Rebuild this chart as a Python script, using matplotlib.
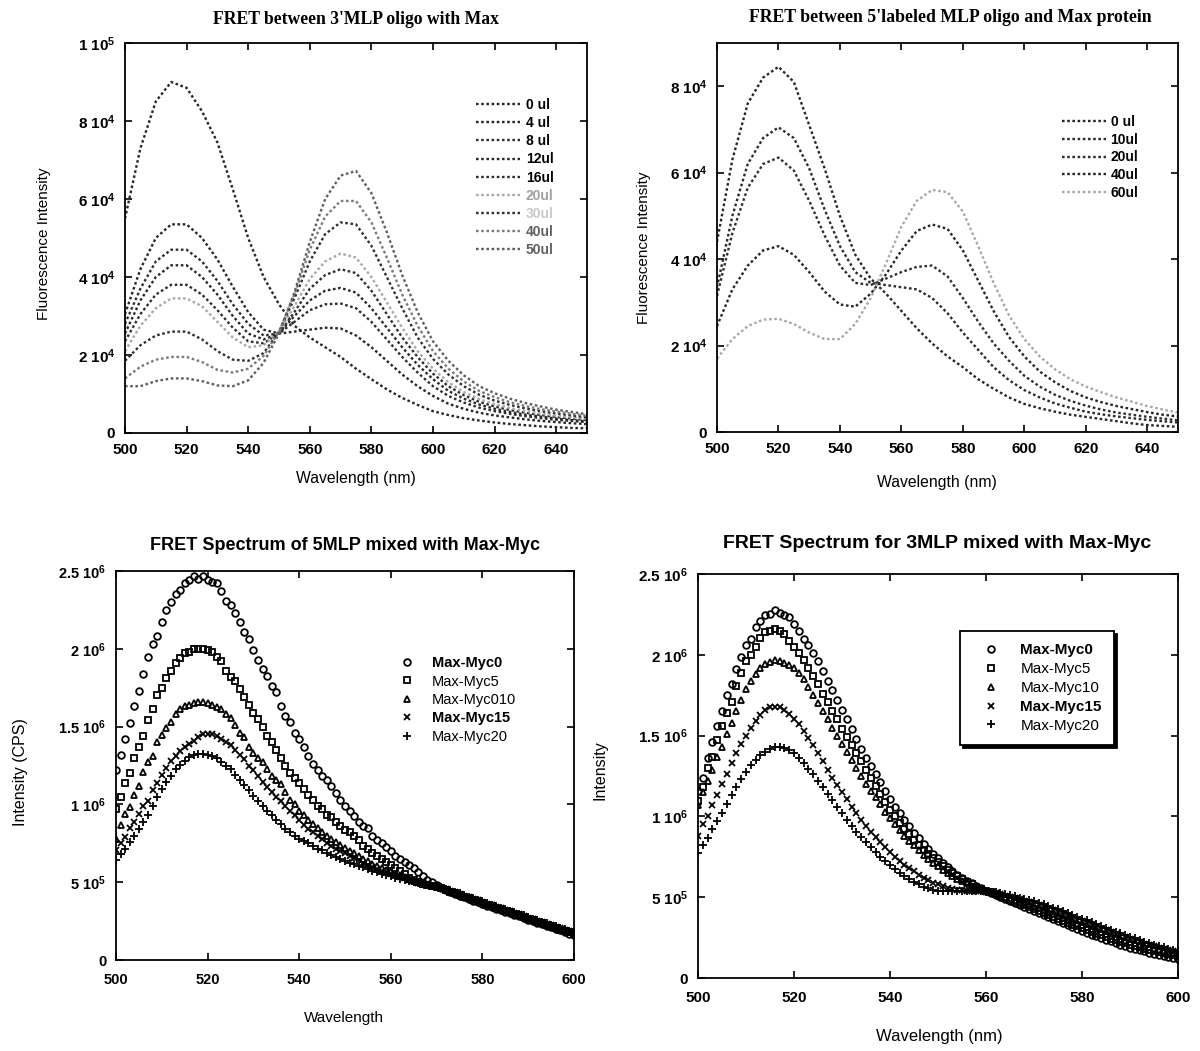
import numpy as np
import matplotlib
matplotlib.use('Agg')
import matplotlib.pyplot as plt

plt.rcParams['font.family'] = ['Liberation Sans', 'DejaVu Sans']
plt.rcParams['mathtext.fontset'] = 'custom'
plt.rcParams['mathtext.rm'] = 'Liberation Sans:bold'
plt.rcParams['mathtext.bf'] = 'Liberation Sans:bold'
plt.rcParams['mathtext.default'] = 'rm'

# ---- top panels: wavelength every 5 nm, intensity in units of 1e4 ----
wl_top = np.arange(500, 651, 5)

tl_labels = ['0 ul', '4 ul', '8 ul', '12ul', '16ul', '20ul', '30ul', '40ul', '50ul']
tl_0 = [5.5, 7.3, 8.5, 9.0, 8.85, 8.25, 7.45, 6.25, 5.0, 4.0,
        3.3, 2.75, 2.45, 2.2, 1.95, 1.65, 1.38, 1.12, 0.9, 0.72,
        0.56, 0.46, 0.38, 0.32, 0.27, 0.23, 0.2, 0.17, 0.15, 0.13, 0.12]
tl_4 = [3.05, 4.2, 5.0, 5.35, 5.35, 5.0, 4.45, 3.75, 3.1, 2.65,
        2.55, 2.6, 2.65, 2.7, 2.68, 2.5, 2.2, 1.85, 1.5, 1.2,
        0.95, 0.75, 0.62, 0.52, 0.45, 0.4, 0.35, 0.31, 0.28, 0.25, 0.23]
tl_8 = [2.8, 3.7, 4.4, 4.7, 4.7, 4.4, 3.9, 3.3, 2.8, 2.5,
        2.55, 2.85, 3.15, 3.3, 3.32, 3.2, 2.85, 2.4, 1.95, 1.55,
        1.2, 0.95, 0.78, 0.65, 0.56, 0.49, 0.43, 0.38, 0.34, 0.31, 0.28]
tl_12 = [2.55, 3.4, 4.0, 4.3, 4.3, 4.0, 3.55, 3.0, 2.55, 2.4,
         2.55, 3.0, 3.4, 3.65, 3.72, 3.6, 3.2, 2.7, 2.2, 1.75,
         1.38, 1.08, 0.88, 0.73, 0.62, 0.54, 0.47, 0.42, 0.37, 0.33, 0.3]
tl_16 = [2.35, 3.05, 3.55, 3.8, 3.8, 3.55, 3.15, 2.7, 2.35, 2.3,
         2.55, 3.1, 3.7, 4.05, 4.2, 4.1, 3.65, 3.05, 2.45, 1.95,
         1.52, 1.2, 0.97, 0.8, 0.68, 0.59, 0.52, 0.46, 0.41, 0.37, 0.33]
tl_20 = [2.1, 2.75, 3.2, 3.45, 3.45, 3.25, 2.85, 2.45, 2.2, 2.25,
         2.6, 3.25, 3.95, 4.4, 4.6, 4.5, 4.0, 3.35, 2.7, 2.1,
         1.65, 1.3, 1.05, 0.87, 0.74, 0.64, 0.56, 0.5, 0.44, 0.4, 0.36]
tl_30 = [1.85, 2.25, 2.5, 2.6, 2.6, 2.4, 2.1, 1.88, 1.85, 2.05,
         2.6, 3.45, 4.4, 5.1, 5.4, 5.35, 4.8, 4.0, 3.2, 2.45,
         1.9, 1.5, 1.2, 0.98, 0.83, 0.72, 0.63, 0.56, 0.5, 0.45, 0.4]
tl_40 = [1.4, 1.7, 1.88, 1.95, 1.95, 1.82, 1.62, 1.55, 1.65, 1.98,
         2.6, 3.55, 4.7, 5.55, 5.95, 5.95, 5.4, 4.5, 3.55, 2.75,
         2.1, 1.65, 1.32, 1.08, 0.92, 0.79, 0.69, 0.61, 0.55, 0.49, 0.44]
tl_50 = [1.2, 1.2, 1.33, 1.4, 1.4, 1.33, 1.22, 1.2, 1.35, 1.8,
         2.55, 3.6, 4.9, 6.0, 6.6, 6.72, 6.15, 5.15, 4.05, 3.1,
         2.35, 1.85, 1.48, 1.2, 1.02, 0.88, 0.77, 0.68, 0.6, 0.54, 0.48]

tr_labels = ['0 ul', '10ul', '20ul', '40ul', '60ul']
tr_0 = [4.4, 6.3, 7.6, 8.2, 8.45, 8.1, 7.1, 6.1, 5.0, 4.1,
        3.55, 3.2, 2.8, 2.4, 2.05, 1.75, 1.5, 1.22, 1.0, 0.8,
        0.65, 0.55, 0.47, 0.4, 0.35, 0.3, 0.25, 0.2, 0.16, 0.14, 0.12]
tr_10 = [3.35, 5.0, 6.2, 6.8, 7.05, 6.8, 6.1, 5.15, 4.3, 3.7,
         3.45, 3.4, 3.35, 3.3, 3.1, 2.75, 2.3, 1.9, 1.5, 1.2,
         0.97, 0.8, 0.66, 0.56, 0.47, 0.41, 0.36, 0.32, 0.28, 0.25, 0.22]
tr_20 = [3.15, 4.6, 5.65, 6.2, 6.35, 6.05, 5.35, 4.55, 3.85, 3.45,
         3.4, 3.55, 3.7, 3.82, 3.85, 3.6, 3.1, 2.55, 2.05, 1.65,
         1.3, 1.05, 0.86, 0.72, 0.61, 0.52, 0.45, 0.4, 0.35, 0.31, 0.27]
tr_40 = [2.45, 3.3, 3.85, 4.2, 4.3, 4.1, 3.7, 3.25, 2.95, 2.9,
         3.2, 3.65, 4.2, 4.65, 4.8, 4.7, 4.2, 3.5, 2.8, 2.2,
         1.75, 1.4, 1.15, 0.95, 0.8, 0.69, 0.6, 0.53, 0.46, 0.4, 0.36]
tr_60 = [1.7, 2.15, 2.45, 2.6, 2.62, 2.5, 2.3, 2.15, 2.15, 2.5,
         3.1, 3.9, 4.75, 5.35, 5.6, 5.55, 5.1, 4.3, 3.45, 2.7,
         2.15, 1.75, 1.45, 1.22, 1.05, 0.92, 0.8, 0.7, 0.6, 0.52, 0.45]

# ---- bottom panels: wavelength every 1 nm, intensity in units of 1e5 ----
wl_bot = np.arange(500, 601, 1)

bl_labels = ['Max-Myc0', 'Max-Myc5', 'Max-Myc010', 'Max-Myc15', 'Max-Myc20']
bl_0 = [12.2, 13.2, 14.2, 15.2, 16.3, 17.3, 18.4, 19.5, 20.3, 20.8,
        21.7, 22.5, 23.0, 23.5, 23.8, 24.2, 24.4, 24.7, 24.5, 24.7,
        24.45, 24.3, 24.2, 23.7, 23.1, 22.8, 22.3, 21.7, 21.1, 20.6,
        19.9, 19.3, 18.7, 18.25, 17.6, 17.2, 16.3, 15.7, 15.3, 14.6,
        14.2, 13.7, 13.1, 12.6, 12.2, 11.8, 11.6, 11.2, 10.75, 10.3,
        9.9, 9.6, 9.25, 8.9, 8.6, 8.5, 8.0, 7.7, 7.5, 7.25,
        7.0, 6.7, 6.5, 6.3, 6.1, 5.9, 5.65, 5.4, 5.15, 5.0,
        4.8, 4.6, 4.48, 4.36, 4.25, 4.14, 4.03, 3.92, 3.81, 3.7,
        3.6, 3.5, 3.4, 3.3, 3.2, 3.1, 3.0, 2.9, 2.8, 2.7,
        2.6, 2.5, 2.4, 2.3, 2.2, 2.1, 2.0, 1.9, 1.8, 1.7,
        1.6]
bl_5 = [9.7, 10.5, 11.35, 12.0, 13.0, 13.7, 14.4, 15.4, 16.1, 17.0,
        17.5, 18.1, 18.6, 19.1, 19.4, 19.7, 19.8, 20.0, 20.0, 20.0,
        19.9, 19.8, 19.5, 19.2, 18.6, 18.2, 17.9, 17.4, 16.9, 16.4,
        15.9, 15.5, 15.0, 14.4, 14.0, 13.5, 13.0, 12.5, 12.0, 11.7,
        11.35, 11.0, 10.6, 10.3, 9.9, 9.7, 9.35, 9.2, 8.9, 8.6,
        8.35, 8.2, 7.95, 7.7, 7.35, 7.15, 6.9, 6.7, 6.5, 6.3,
        6.1, 5.9, 5.7, 5.5, 5.3, 5.15, 5.0, 4.9, 4.82, 4.75,
        4.7, 4.62, 4.51, 4.4, 4.29, 4.18, 4.07, 3.96, 3.86, 3.76,
        3.66, 3.56, 3.46, 3.36, 3.26, 3.16, 3.06, 2.96, 2.86, 2.76,
        2.66, 2.56, 2.46, 2.36, 2.26, 2.16, 2.06, 1.96, 1.86, 1.77,
        1.68]
bl_10 = [7.8, 8.7, 9.4, 9.85, 10.6, 11.2, 12.1, 12.7, 13.1, 14.0,
         14.45, 14.9, 15.3, 15.8, 16.1, 16.3, 16.4, 16.5, 16.6, 16.6,
         16.5, 16.4, 16.25, 16.1, 15.8, 15.55, 15.1, 14.6, 14.3, 13.7,
         13.3, 13.0, 12.7, 12.3, 11.8, 11.6, 11.3, 10.8, 10.3, 10.0,
         9.6, 9.3, 9.0, 8.75, 8.5, 8.2, 8.0, 7.8, 7.6, 7.4,
         7.2, 7.0, 6.85, 6.7, 6.5, 6.35, 6.2, 6.05, 5.9, 5.8,
         5.7, 5.55, 5.45, 5.35, 5.2, 5.1, 5.0, 4.9, 4.82, 4.75,
         4.7, 4.64, 4.54, 4.44, 4.33, 4.22, 4.11, 4.0, 3.9, 3.8,
         3.7, 3.6, 3.5, 3.4, 3.3, 3.2, 3.1, 3.0, 2.9, 2.8,
         2.7, 2.6, 2.5, 2.4, 2.3, 2.2, 2.1, 2.0, 1.9, 1.81,
         1.72]
bl_15 = [7.1, 7.5, 7.9, 8.5, 8.9, 9.4, 9.9, 10.2, 10.9, 11.35,
         11.9, 12.35, 12.8, 13.1, 13.45, 13.7, 13.9, 14.05, 14.3, 14.5,
         14.55, 14.5, 14.4, 14.2, 14.0, 13.8, 13.5, 13.2, 12.9, 12.5,
         12.2, 11.8, 11.45, 11.1, 10.8, 10.5, 10.2, 9.9, 9.6, 9.3,
         9.0, 8.7, 8.45, 8.2, 8.0, 7.8, 7.55, 7.35, 7.15, 7.0,
         6.85, 6.7, 6.55, 6.4, 6.25, 6.1, 6.0, 5.85, 5.75, 5.65,
         5.55, 5.45, 5.35, 5.25, 5.15, 5.05, 4.98, 4.9, 4.82, 4.75,
         4.7, 4.65, 4.56, 4.46, 4.36, 4.25, 4.14, 4.03, 3.93, 3.83,
         3.73, 3.63, 3.53, 3.43, 3.33, 3.23, 3.13, 3.03, 2.93, 2.83,
         2.73, 2.63, 2.53, 2.43, 2.33, 2.23, 2.13, 2.03, 1.94, 1.85,
         1.76]
bl_20 = [6.4, 6.8, 7.15, 7.6, 8.0, 8.45, 8.9, 9.35, 9.9, 10.45,
         11.0, 11.45, 11.85, 12.25, 12.55, 12.8, 13.05, 13.2, 13.25, 13.25,
         13.2, 13.1, 13.0, 12.7, 12.5, 12.25, 11.9, 11.55, 11.25, 10.9,
         10.55, 10.25, 9.9, 9.6, 9.3, 9.0, 8.75, 8.45, 8.25, 8.0,
         7.8, 7.65, 7.5, 7.3, 7.15, 7.05, 6.9, 6.75, 6.6, 6.5,
         6.35, 6.25, 6.15, 6.05, 5.95, 5.85, 5.75, 5.65, 5.55, 5.45,
         5.4, 5.3, 5.2, 5.15, 5.1, 5.0, 4.95, 4.88, 4.82, 4.76,
         4.7, 4.66, 4.58, 4.48, 4.38, 4.28, 4.17, 4.06, 3.96, 3.86,
         3.76, 3.66, 3.56, 3.46, 3.36, 3.26, 3.16, 3.06, 2.96, 2.86,
         2.76, 2.66, 2.56, 2.46, 2.36, 2.26, 2.16, 2.06, 1.97, 1.88,
         1.8]

br_labels = ['Max-Myc0', 'Max-Myc5', 'Max-Myc10', 'Max-Myc15', 'Max-Myc20']
br_0 = [11.6, 12.4, 13.6, 14.6, 15.6, 16.5, 17.5, 18.2, 19.15, 19.85,
        20.6, 21.0, 21.7, 22.1, 22.45, 22.5, 22.8, 22.6, 22.45, 22.35,
        21.9, 21.5, 21.0, 20.6, 20.1, 19.6, 19.0, 18.4, 17.8, 17.2,
        16.6, 16.0, 15.4, 14.8, 14.2, 13.6, 13.1, 12.6, 12.1, 11.6,
        11.1, 10.6, 10.2, 9.8, 9.4, 9.0, 8.65, 8.3, 8.0, 7.7,
        7.4, 7.1, 6.85, 6.6, 6.4, 6.2, 6.0, 5.85, 5.7, 5.55,
        5.4, 5.28, 5.15, 5.02, 4.9, 4.78, 4.65, 4.52, 4.4, 4.28,
        4.15, 4.02, 3.9, 3.78, 3.65, 3.52, 3.4, 3.28, 3.16, 3.04,
        2.92, 2.8, 2.68, 2.57, 2.46, 2.36, 2.26, 2.16, 2.06, 1.97,
        1.88, 1.8, 1.72, 1.64, 1.56, 1.49, 1.42, 1.36, 1.3, 1.25,
        1.2]
br_5 = [10.95, 11.8, 13.0, 13.7, 14.7, 15.6, 16.4, 17.1, 18.1, 18.9,
        19.6, 20.0, 20.5, 21.05, 21.4, 21.5, 21.6, 21.45, 21.3, 20.85,
        20.5, 20.1, 19.7, 19.2, 18.7, 18.2, 17.6, 17.1, 16.5, 16.0,
        15.4, 14.9, 14.4, 13.9, 13.4, 12.9, 12.4, 11.9, 11.4, 10.9,
        10.4, 10.0, 9.6, 9.25, 8.9, 8.55, 8.25, 7.95, 7.65, 7.4,
        7.15, 6.9, 6.7, 6.5, 6.3, 6.1, 5.95, 5.8, 5.65, 5.5,
        5.4, 5.3, 5.18, 5.06, 4.95, 4.84, 4.72, 4.6, 4.49, 4.38,
        4.26, 4.14, 4.02, 3.9, 3.78, 3.66, 3.54, 3.42, 3.3, 3.19,
        3.08, 2.97, 2.86, 2.75, 2.64, 2.54, 2.44, 2.34, 2.25, 2.16,
        2.07, 1.98, 1.9, 1.82, 1.74, 1.67, 1.6, 1.53, 1.47, 1.41,
        1.35]
br_10 = [10.7, 11.5, 12.2, 12.9, 13.7, 14.3, 15.1, 15.8, 16.5, 17.2,
         17.9, 18.4, 18.8, 19.2, 19.4, 19.55, 19.65, 19.6, 19.5, 19.35,
         19.2, 18.9, 18.5, 18.0, 17.5, 17.0, 16.5, 16.0, 15.5, 15.0,
         14.5, 14.0, 13.5, 13.0, 12.5, 12.0, 11.6, 11.2, 10.75, 10.3,
         9.9, 9.5, 9.15, 8.8, 8.5, 8.2, 7.9, 7.6, 7.35, 7.1,
         6.9, 6.7, 6.5, 6.3, 6.15, 6.0, 5.85, 5.72, 5.6, 5.5,
         5.4, 5.32, 5.22, 5.12, 5.02, 4.92, 4.82, 4.72, 4.62, 4.52,
         4.42, 4.32, 4.2, 4.08, 3.96, 3.84, 3.72, 3.6, 3.48, 3.37,
         3.26, 3.15, 3.04, 2.93, 2.82, 2.72, 2.62, 2.52, 2.42, 2.32,
         2.23, 2.14, 2.05, 1.97, 1.89, 1.81, 1.74, 1.67, 1.6, 1.54,
         1.48]
br_15 = [8.8, 9.5, 10.0, 10.7, 11.3, 12.0, 12.6, 13.3, 13.9, 14.5,
         15.0, 15.5, 15.9, 16.3, 16.6, 16.75, 16.8, 16.75, 16.6, 16.35,
         16.05, 15.7, 15.3, 14.85, 14.4, 13.9, 13.4, 12.9, 12.4, 11.95,
         11.5, 11.05, 10.6, 10.2, 9.8, 9.4, 9.05, 8.7, 8.4, 8.1,
         7.8, 7.5, 7.25, 7.0, 6.8, 6.6, 6.4, 6.2, 6.05, 5.9,
         5.8, 5.7, 5.6, 5.52, 5.46, 5.42, 5.4, 5.38, 5.37, 5.36,
         5.35, 5.32, 5.26, 5.18, 5.1, 5.02, 4.94, 4.86, 4.78, 4.7,
         4.6, 4.5, 4.4, 4.3, 4.19, 4.08, 3.97, 3.86, 3.74, 3.62,
         3.5, 3.39, 3.28, 3.17, 3.06, 2.95, 2.84, 2.73, 2.62, 2.52,
         2.42, 2.32, 2.22, 2.13, 2.04, 1.96, 1.88, 1.8, 1.73, 1.66,
         1.6]
br_20 = [7.75, 8.2, 8.65, 9.2, 9.7, 10.2, 10.75, 11.3, 11.8, 12.3,
         12.75, 13.15, 13.5, 13.8, 14.0, 14.2, 14.3, 14.3, 14.25, 14.1,
         13.9, 13.6, 13.3, 12.95, 12.6, 12.2, 11.8, 11.4, 11.0, 10.6,
         10.2, 9.8, 9.4, 9.05, 8.7, 8.4, 8.1, 7.8, 7.5, 7.25,
         7.0, 6.75, 6.5, 6.3, 6.1, 5.95, 5.8, 5.65, 5.55, 5.45,
         5.4, 5.38, 5.37, 5.38, 5.4, 5.4, 5.4, 5.38, 5.37, 5.36,
         5.35, 5.34, 5.3, 5.25, 5.2, 5.13, 5.06, 4.98, 4.9, 4.82,
         4.74, 4.65, 4.55, 4.45, 4.35, 4.25, 4.14, 4.03, 3.92, 3.8,
         3.68, 3.56, 3.44, 3.32, 3.2, 3.09, 2.98, 2.87, 2.76, 2.65,
         2.55, 2.45, 2.35, 2.25, 2.16, 2.07, 1.98, 1.9, 1.82, 1.75,
         1.68]

W, H = 1200, 1051
fig = plt.figure(figsize=(W / 100, H / 100), dpi=100)


def px_axes(x0, y0, x1, y1):
    # axes from a pixel box (left, top, right, bottom)
    return fig.add_axes([x0 / W, 1 - y1 / H, (x1 - x0) / W, (y1 - y0) / H])


def ftext(x, y, s, **kw):
    fig.text(x / W, 1 - y / H, s, ha='center', va='center', **kw)


def style(ax, xticks, yticks, ylabels, xlim, ylim, fs=10.5, xpad=7):
    ax.set_xlim(*xlim)
    ax.set_ylim(*ylim)
    ax.set_xticks(xticks)
    ax.set_xticklabels([str(t) for t in xticks], fontweight='bold', fontsize=fs)
    ax.set_yticks(yticks)
    ax.set_yticklabels(ylabels, fontweight='bold', fontsize=fs)
    ax.tick_params(direction='in', top=True, right=True, length=5, width=1.2, pad=7)
    ax.tick_params(axis='x', pad=xpad)
    for sp in ax.spines.values():
        sp.set_linewidth(1.3)


dot = (0, (1.1, 1.1))

# ---------- top left ----------
ax = px_axes(125, 43, 587, 433)
tl_series = [tl_0, tl_4, tl_8, tl_12, tl_16, tl_20, tl_30, tl_40, tl_50]
tl_colors = ['#262626', '#262626', '#2e2e2e', '#2a2a2a', '#2e2e2e', '#a8a8a8', '#303030', '#7a7a7a', '#5e5e5e']
tl_textc = ['black', 'black', 'black', 'black', 'black', '#a0a0a0', '#c8c8c8', '#606060', '#606060']
for vals, c, lab in zip(tl_series, tl_colors, tl_labels):
    ax.plot(wl_top, np.array(vals) * 1e4, color=c, lw=1.7, ls=dot, label=lab)
style(ax, list(range(500, 641, 20)), [0, 2e4, 4e4, 6e4, 8e4, 1e5],
      ['0', '2 10$^{4}$', '4 10$^{4}$', '6 10$^{4}$', '8 10$^{4}$', '1 10$^{5}$'],
      (500, 650), (0, 1e5), fs=11)
leg = ax.legend(loc='upper left', bbox_to_anchor=(469 / W, 1 - 91 / H), bbox_transform=fig.transFigure,
                frameon=False, borderpad=0, handlelength=3.2, handletextpad=0.4, labelspacing=0.3,
                prop={'weight': 'bold', 'size': 10})
for t, c in zip(leg.get_texts(), tl_textc):
    t.set_color(c)
ftext(356, 19, "FRET between 3'MLP oligo with Max", family='Liberation Serif', fontweight='bold', fontsize=12.7)
ftext(356, 478, 'Wavelength (nm)', fontsize=11.3)
ftext(44, 244, 'Fluorescence Intensity', fontsize=11, rotation=90)

# ---------- top right ----------
ax = px_axes(717, 43, 1178, 432)
tr_series = [tr_0, tr_10, tr_20, tr_40, tr_60]
tr_colors = ['#262626', '#2a2a2a', '#2e2e2e', '#262626', '#a8a8a8']
for vals, c, lab in zip(tr_series, tr_colors, tr_labels):
    ax.plot(wl_top, np.array(vals) * 1e4, color=c, lw=1.7, ls=dot, label=lab)
style(ax, list(range(500, 641, 20)), [0, 2e4, 4e4, 6e4, 8e4],
      ['0', '2 10$^{4}$', '4 10$^{4}$', '6 10$^{4}$', '8 10$^{4}$'],
      (500, 650), (0, 9e4), fs=11)
ax.legend(loc='upper left', bbox_to_anchor=(1055 / W, 1 - 108 / H), bbox_transform=fig.transFigure,
          frameon=False, borderpad=0, handlelength=3.2, handletextpad=0.3, labelspacing=0.27,
          prop={'weight': 'bold', 'size': 10})
ftext(950, 18, "FRET between 5'labeled MLP oligo and Max protein", family='Liberation Serif',
      fontweight='bold', fontsize=12.8)
ftext(937, 482, 'Wavelength (nm)', fontsize=11.3)
ftext(644, 248, 'Fluorescence Intensity', fontsize=11, rotation=90)

markers = [('o', 4.8), ('s', 4.5), ('^', 3.8), ('x', 4.6), ('+', 5.4)]
bot_ticks = [0, 5e5, 1e6, 1.5e6, 2e6, 2.5e6]
bot_tlabels = ['0', '5 10$^{5}$', '1 10$^{6}$', '1.5 10$^{6}$', '2 10$^{6}$', '2.5 10$^{6}$']

# ---------- bottom left ----------
ax = px_axes(116, 571, 574, 960)
for vals, (m, ms), lab in zip([bl_0, bl_5, bl_10, bl_15, bl_20], markers, bl_labels):
    ax.plot(wl_bot, np.array(vals) * 1e5, ls='none', marker=m, ms=ms, mfc='none', mec='black',
            mew=1.3, label=lab)
style(ax, list(range(500, 601, 20)), bot_ticks, bot_tlabels, (500, 600), (0, 2.5e6), fs=10.5, xpad=9)
leg = ax.legend(loc='upper left', bbox_to_anchor=(0.62, 0.781), bbox_transform=ax.transAxes,
                frameon=False, borderpad=0, borderaxespad=0, handlelength=1.0, handletextpad=1.2,
                labelspacing=0.3, prop={'size': 10.5})
for t, w in zip(leg.get_texts(), ['bold', 'normal', 'normal', 'bold', 'normal']):
    t.set_fontweight(w)
ftext(345, 545, 'FRET Spectrum of 5MLP mixed with Max-Myc', fontweight='bold', fontsize=13)
ftext(344, 1018, 'Wavelength', fontsize=11)
ftext(21, 772, 'Intensity (CPS)', fontsize=11.5, rotation=90)

# ---------- bottom right ----------
ax = px_axes(698, 574, 1178, 978)
for vals, (m, ms), lab in zip([br_0, br_5, br_10, br_15, br_20], markers, br_labels):
    ax.plot(wl_bot, np.array(vals) * 1e5, ls='none', marker=m, ms=ms, mfc='none', mec='black',
            mew=1.3, label=lab)
style(ax, list(range(500, 601, 20)), bot_ticks, bot_tlabels, (500, 600), (0, 2.5e6), fs=11, xpad=9)
leg = ax.legend(loc='upper left', bbox_to_anchor=(960 / W, 1 - 631 / H), bbox_transform=fig.transFigure,
                frameon=True, fancybox=False, edgecolor='black', framealpha=1,
                shadow={'color': 'black', 'alpha': 1}, borderpad=0.8, handlelength=2.5,
                handletextpad=0.65, labelspacing=0.32, borderaxespad=0, prop={'size': 11})
leg.get_frame().set_linewidth(1.3)
for t, w in zip(leg.get_texts(), ['bold', 'normal', 'normal', 'bold', 'normal']):
    t.set_fontweight(w)
ftext(937, 544, 'FRET Spectrum for 3MLP mixed with Max-Myc', fontweight='bold', fontsize=14)
ftext(939, 1037, 'Wavelength (nm)', fontsize=12)
ftext(600, 770, 'Intensity', fontsize=11.5, rotation=90)

fig.savefig('out.png', dpi=100)
